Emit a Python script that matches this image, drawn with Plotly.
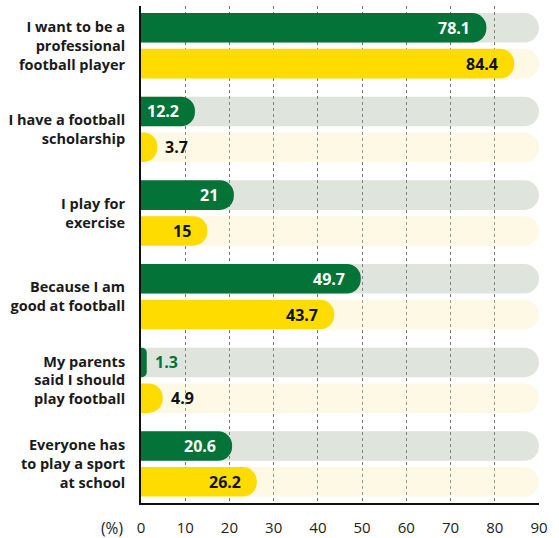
import plotly.graph_objects as go

categories = [
    "I want to be a<br>professional<br>football player",
    "I have a football<br>scholarship",
    "I play for<br>exercise",
    "Because I am<br>good at football",
    "My parents<br>said I should<br>play football",
    "Everyone has<br>to play a sport<br>at school",
]
green_values = [78.1, 12.2, 21, 49.7, 1.3, 20.6]
yellow_values = [84.4, 3.7, 15, 43.7, 4.9, 26.2]
x_max = 90
x_ticks = [0, 10, 20, 30, 40, 50, 60, 70, 80, 90]

GREEN = "#047337"
YELLOW = "#FFDC00"
BG_GREEN = "rgba(148,165,138,0.3)"
BG_YELLOW = "rgba(248,235,168,0.3)"
FONT = "Open Sans"

idx = list(range(len(categories)))
off = 0.214
w = 0.353
y_range = [5.467, -0.475]

fig = go.Figure()
def bar(xv, offset, color, yaxis):
    return go.Bar(x=xv, y=idx, orientation="h", width=w, offset=offset,
                  hoverinfo="skip", yaxis=yaxis,
                  marker=dict(color=color, line=dict(width=0), cornerradius=15))

# background tracks on y, data bars on y2 so each keeps its own rounding
fig.add_trace(bar([x_max] * len(idx), -off - w / 2, BG_GREEN, "y"))
fig.add_trace(bar([x_max] * len(idx), off - w / 2, BG_YELLOW, "y"))
fig.add_trace(bar(green_values, -off - w / 2, GREEN, "y2"))
fig.add_trace(bar(yellow_values, off - w / 2, YELLOW, "y2"))

threshold = 8
for vals, sgn, inside_col, outside_col in [
    (green_values, -1, "white", GREEN),
    (yellow_values, 1, "#111111", "#111111"),
]:
    for i, v in zip(idx, vals):
        label = f"{v:g}"
        yv = i + sgn * off
        if v >= threshold:
            fig.add_annotation(x=v, y=yv, text=f"<b>{label}</b>", showarrow=False,
                               xanchor="right", xshift=-14,
                               font=dict(family=FONT, size=16, color=inside_col))
        else:
            fig.add_annotation(x=v, y=yv, text=f"<b>{label}</b>", showarrow=False,
                               xanchor="left", xshift=6,
                               font=dict(family=FONT, size=16, color=outside_col))

fig.add_annotation(xref="paper", yref="paper", x=-0.04, y=0, yshift=-25,
                   text="(%)", showarrow=False, xanchor="right", yanchor="middle",
                   font=dict(family=FONT, size=15.5, color="#222222"))

fig.update_layout(
    width=559, height=538,
    margin=dict(l=141, r=20, t=6, b=35),
    barmode="overlay",
    barcornerradius=15,
    showlegend=False,
    plot_bgcolor="white",
    paper_bgcolor="white",
    font=dict(family=FONT, size=15, color="#222222"),
    xaxis=dict(
        range=[0, x_max], tickvals=x_ticks, ticktext=[str(t) for t in x_ticks],
        showgrid=True, gridcolor="#777777", griddash="dot", gridwidth=1,
        zeroline=False, showline=True, linecolor="#111111", linewidth=2,
        ticks="", ticklabelstandoff=10, automargin=False,
        tickfont=dict(family=FONT, size=15, color="#222222"),
        fixedrange=True,
    ),
    yaxis=dict(
        range=y_range, tickvals=idx, ticktext=[f"<b>{c}</b>" for c in categories],
        showgrid=False, zeroline=False, showline=True, linecolor="#111111", linewidth=2,
        ticks="", ticklabelstandoff=11, automargin=False,
        tickfont=dict(family=FONT, size=14.5, color="#1a1a1a"),
        fixedrange=True,
    ),
    yaxis2=dict(
        range=y_range, overlaying="y", visible=False, showgrid=False,
        zeroline=False, fixedrange=True,
    ),
)

fig.write_html("out.html")
